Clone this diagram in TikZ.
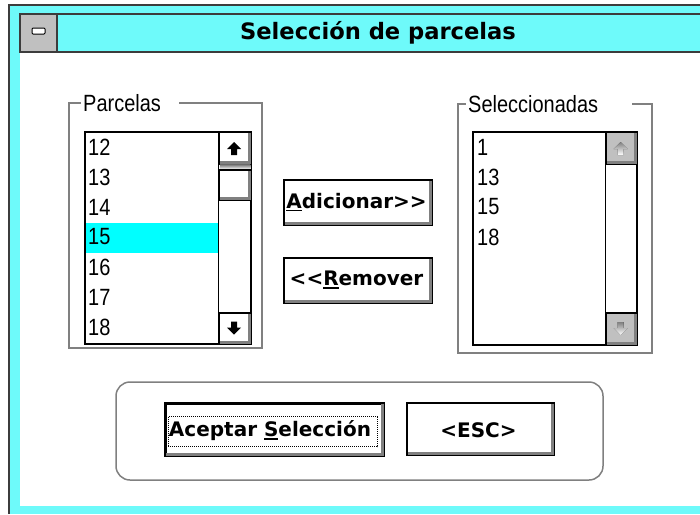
\documentclass[tikz,border=0pt]{standalone}
\usepackage{fontspec}
\setmainfont{Liberation Sans}
\newfontfamily\listfont[FakeStretch=0.85]{Liberation Sans}
\newfontfamily\uifont{DejaVu Sans}
\usetikzlibrary{calc}
\definecolor{dcyan}{RGB}{110,250,250}
\definecolor{hcyan}{RGB}{0,255,255}
\definecolor{face}{RGB}{192,192,192}
\definecolor{shade}{RGB}{128,128,128}
\definecolor{wframe}{RGB}{60,60,60}
\newcommand\mnemonic[1]{\leavevmode\setbox0\hbox{#1}\rlap{\rule[-3pt]{\wd0}{1.6pt}}\box0}
\newcommand\btnshadow[1]{\draw[shadowline] ($(#1.north east)+(-2.5,2)$) |- ($(#1.south west)+(2,-2.5)$);}
\newcommand\upglyph[2]{\fill[#2] ([shift={(-8,1)}]#1.center) -- ++(7,-7) -- ++(7,7) -- ++(-4,0) -- ++(0,6) -- ++(-6,0) -- ++(0,-6) -- cycle;}
\newcommand\downglyph[2]{\fill[#2] ([shift={(-8,-1)}]#1.center) -- ++(7,7) -- ++(7,-7) -- ++(-4,0) -- ++(0,-6) -- ++(-6,0) -- ++(0,6) -- cycle;}
\begin{document}
\begin{tikzpicture}[x=1pt,y=-1pt,
  lst/.style={font=\listfont\fontsize{23.5}{24}\selectfont, anchor=west, inner sep=0pt},
  grp/.style={draw=shade, line width=1.5pt, inner sep=0pt},
  glabel/.style={font=\listfont\fontsize{23.5}{24}\selectfont, fill=white, anchor=west, inner xsep=2pt, inner ysep=0pt},
  listbox/.style={draw=black, line width=1.5pt, fill=white, inner sep=0pt},
  pbtn/.style={draw=black, line width=1.5pt, fill=white, inner sep=0pt, font=\uifont\bfseries\fontsize{20}{20}\selectfont},
  btntext/.style={font=\uifont\bfseries\fontsize{20}{20}\selectfont, inner sep=0pt},
  sbtn/.style={draw=black, line width=1.5pt, inner sep=0pt, minimum width=32pt, minimum height=32pt},
  shadowline/.style={draw=shade, line width=3pt},
]
\useasboundingbox (0,0) rectangle (700,514);
\fill[white] (0,0) rectangle (700,514);
% window frame
\fill[dcyan] (10,6) rectangle (700,514);
\fill[white] (20,53) rectangle (700,506);
\draw[wframe, line width=2pt] (9,514) -- (9,5) -- (700,5);
% title bar
\node[draw=wframe, line width=1.5pt, fill=dcyan, inner sep=0pt, minimum width=692, minimum height=38] (titlebar) at (366,33) {};
\node[draw=wframe, line width=1.5pt, fill=face, inner sep=0pt, minimum width=37, minimum height=38] (sysmenu) at (38.5,33) {};
\node[draw=black, line width=1pt, fill=white, inner sep=0pt, minimum width=13, minimum height=6, rounded corners=1pt] (sysbar) at (38.5,31) {};
\node[font=\uifont\bfseries\fontsize{22.6}{23}\selectfont, inner sep=0pt] (title) at (378,33) {Selección de parcelas};

% Parcelas group
\node[grp, minimum width=193, minimum height=245] (pgroup) at (165.5,225.5) {};
\node[glabel] (plabel) at (81,103) {Parcelas\kern16pt\null};
\node[listbox, minimum width=166, minimum height=212] (plist) at (168,238) {};
\node[fill=hcyan, inner sep=0pt, minimum width=133, minimum height=30] (psel) at (152.3,238) {};
\node[lst] (p12) at (88,147) {12};
\node[lst] (p13) at (88,177) {13};
\node[lst] (p14) at (88,207) {14};
\node[lst] (p15) at (88,237) {15};
\node[lst] (p16) at (88,267) {16};
\node[lst] (p17) at (88,297) {17};
\node[lst] (p18) at (88,327) {18};
% scrollbar
\node[sbtn, fill=white] (pup) at (235,148) {};
\node[sbtn, fill=white, minimum height=31] (pdown) at (235,328.5) {};
\draw[black, line width=1.5pt] (pup.south west) -- (pdown.north west);
\fill[shade] (219.75,164.75) rectangle (250.25,169.25);
\node[sbtn, fill=white, minimum height=30] (pthumb) at (235,185) {};
\btnshadow{pup}
\btnshadow{pdown}
\btnshadow{pthumb}
\upglyph{pup}{black}
\downglyph{pdown}{black}

% Seleccionadas group
\node[grp, minimum width=194, minimum height=249] (sgroup) at (555,228.5) {};
\node[glabel] (slabel) at (466,104) {Seleccionadas\kern32pt\null};
\node[listbox, minimum width=164, minimum height=213] (slist) at (555,238.5) {};
\node[lst] (s1) at (477,147) {1};
\node[lst] (s13) at (477,177) {13};
\node[lst] (s15) at (477,207) {15};
\node[lst] (s18) at (477,237) {18};
\node[sbtn, fill=face, minimum width=31] (sup2) at (621.5,148) {};
\node[sbtn, fill=face, minimum width=31] (sdown) at (621.5,329) {};
\draw[black, line width=1.5pt] (sup2.south west) -- (sdown.north west);
\btnshadow{sup2}
\btnshadow{sdown}
\begin{scope}[shift={(1,1)}]
\upglyph{sup2}{white}
\downglyph{sdown}{white}
\end{scope}
\upglyph{sup2}{shade}
\downglyph{sdown}{shade}

% Add / Remove buttons
\node[pbtn, minimum width=148, minimum height=45] (add) at (358,202.5) {};
\btnshadow{add}
\node[btntext] (addtxt) at (356.5,202) {\mnemonic{A}dicionar>>};
\node[pbtn, minimum width=148, minimum height=45] (rem) at (358,280.5) {};
\btnshadow{rem}
\node[btntext] (remtxt) at (356.5,280) {<<\mnemonic{R}emover};

% bottom group
\node[draw=shade, line width=1.5pt, rounded corners=14pt, inner sep=0pt, minimum width=487, minimum height=98] (bgroup) at (359.5,431) {};
\node[draw=black, line width=3pt, fill=white, inner sep=0pt, minimum width=218, minimum height=52] (ok) at (274,429) {};
\btnshadow{ok}
\node[draw=black, line width=1pt, dash pattern=on 1pt off 1pt, inner sep=0pt, minimum width=209, minimum height=30] (okfocus) at (272.5,431.5) {};
\node[btntext] (oktxt) at (270,431) {Aceptar \mnemonic{S}elección};
\node[pbtn, minimum width=147, minimum height=52] (esc) at (480.5,429) {};
\btnshadow{esc}
\node[btntext] (esctxt) at (478.5,430) {<ESC>};
\end{tikzpicture}
\end{document}
